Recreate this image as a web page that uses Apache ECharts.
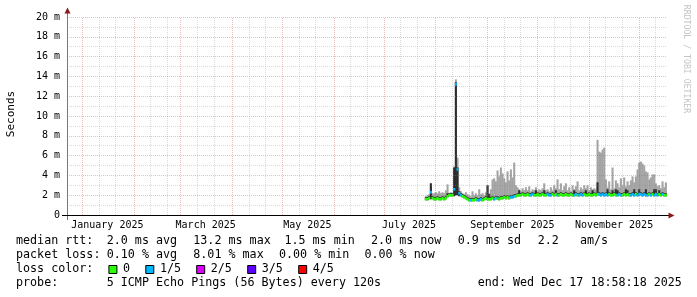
<!DOCTYPE html>
<html><head><meta charset="utf-8">
<script src="https://cdn.jsdelivr.net/npm/echarts@6/dist/echarts.min.js"></script>
<style>html,body{margin:0;padding:0;background:#fff}#c{width:697px;height:297px}</style>
</head><body><div id="c"></div>
<script>
const DAY = 86400000;
const endTime = Date.UTC(2025, 11, 17, 18, 58, 18);
const startTime = endTime - 360 * DAY;
const firstSample = Date.UTC(2025, 6, 26);   // one consolidated sample per day

// median RTT (ms)
const median = [
1.6,1.6,1.7,2.3,1.7,1.6,1.6,1.7,1.6,1.6,
1.7,1.6,1.7,1.9,2.0,2.0,2.0,2.6,13.2,4.6,
2.2,2.0,1.9,1.8,1.7,1.6,1.5,1.5,1.5,1.5,
1.6,1.5,1.5,1.6,1.5,1.6,1.7,1.6,1.6,1.6,
1.7,1.6,1.7,1.7,1.6,1.7,1.7,1.8,1.7,1.8,
1.7,1.8,1.8,1.9,1.9,2.0,2.0,2.0,2.1,2.0,
2.0,2.1,2.0,2.0,2.1,2.0,2.0,2.1,2.0,2.0,
2.1,2.0,2.0,2.1,2.0,2.0,2.1,2.0,2.1,2.0,
2.0,2.1,2.0,2.0,2.1,2.0,2.0,2.1,2.0,2.0,
2.1,2.0,2.0,2.1,2.0,2.1,2.0,2.0,2.1,2.0,
2.0,2.1,2.0,2.1,2.1,2.0,2.1,2.0,2.1,2.0,
2.1,2.0,2.0,2.1,2.0,2.0,2.1,2.0,2.0,2.1,
2.0,2.1,2.0,2.0,2.1,2.0,2.1,2.0,2.1,2.1,
2.0,2.1,2.0,2.0,2.1,2.0,2.1,2.0,2.1,2.0,
2.1,2.0,2.1,2.0,2.0];
// lost pings out of 5
const lossLevel = [
0,0,0,1,0,0,0,0,0,0,
0,0,0,0,0,0,0,1,1,1,
1,1,0,0,0,0,0,1,0,0,
0,1,1,1,0,0,0,0,0,0,
0,1,0,1,0,0,0,0,0,0,
0,1,1,1,0,0,0,0,0,0,
0,0,0,1,1,0,0,0,0,0,
0,0,0,1,1,1,0,0,0,1,
0,0,0,0,0,0,0,0,0,1,
1,0,1,1,1,0,0,0,0,0,
0,0,0,0,1,1,1,1,1,1,
0,0,0,0,0,1,1,1,0,0,
0,0,0,1,1,1,0,1,1,1,
1,1,1,1,0,1,0,1,1,1,
0,0,1,0,0];
// slowest ping (ms)
const pingHi = [
1.9,2.0,2.1,3.2,2.2,2.2,2.3,2.2,2.4,2.2,
2.3,2.2,2.5,3.1,2.2,2.3,2.2,4.9,13.7,5.8,
2.8,2.4,2.2,2.1,2.3,2.1,2.0,1.9,2.4,2.0,
2.2,2.0,2.6,2.1,2.2,2.0,2.3,3.0,2.2,2.6,
3.6,3.7,3.4,4.5,3.9,4.8,4.2,3.7,3.3,4.4,
3.5,4.6,3.8,5.3,3.0,2.8,2.6,2.4,2.7,2.5,
2.8,2.5,2.9,2.4,2.6,2.5,2.8,2.4,2.6,2.5,
2.7,3.2,2.5,2.6,2.4,2.8,2.5,3.0,2.7,3.6,
2.6,3.2,2.5,2.9,3.2,2.5,2.8,2.4,3.0,2.6,
2.9,3.4,2.5,2.8,2.6,3.0,2.7,3.0,2.5,2.8,
2.6,2.7,2.6,7.6,6.4,6.3,6.6,6.8,3.6,2.8,
3.4,2.6,4.8,2.7,3.5,3.2,2.8,3.7,3.0,3.8,
2.9,3.4,3.0,3.5,3.9,3.3,3.9,4.6,5.3,5.4,
5.2,5.0,4.4,4.3,3.6,3.8,4.1,4.1,3.2,2.9,
3.0,2.7,3.4,2.8,3.3];
// 4th of 5 pings, top of the inner smoke (ms)
const pingMid = [
1.8,1.8,1.9,3.2,1.9,1.8,1.8,1.9,1.8,1.8,
1.9,1.8,1.9,2.2,2.2,2.2,2.2,4.8,13.4,4.8,
2.4,2.2,2.1,2.0,1.9,1.8,1.7,1.7,1.7,1.7,
1.8,1.7,1.7,1.8,1.7,1.8,1.9,3.0,2.1,1.8,
1.9,1.8,1.9,1.9,1.8,1.9,1.9,2.0,1.9,2.0,
1.9,2.0,2.0,2.1,2.1,2.2,2.5,2.2,2.3,2.2,
2.2,2.3,2.2,2.2,2.3,2.2,2.5,2.3,2.2,2.2,
2.3,2.5,2.2,2.3,2.2,2.2,2.3,2.2,2.5,2.2,
2.2,2.3,2.2,2.2,2.3,2.2,2.2,2.3,2.2,2.5,
2.3,2.2,2.2,2.3,2.2,2.3,2.5,2.2,2.3,2.2,
2.5,2.3,2.2,3.3,2.3,2.2,2.3,2.2,2.3,2.6,
2.3,2.2,2.5,2.3,2.6,2.5,2.3,2.2,2.2,2.3,
2.6,2.5,2.2,2.2,2.3,2.6,2.3,2.2,2.6,2.3,
2.2,2.3,2.6,2.2,2.3,2.2,2.3,2.6,2.6,2.2,
2.5,2.2,2.3,2.2,2.2];
// fastest ping (ms)
const pingLo = [
1.5,1.5,1.6,1.6,1.6,1.5,1.5,1.6,1.5,1.5,
1.6,1.5,1.6,1.8,1.9,1.9,1.9,1.9,2.0,2.0,
1.9,1.9,1.8,1.7,1.6,1.5,1.4,1.4,1.4,1.4,
1.5,1.4,1.4,1.5,1.4,1.5,1.6,1.5,1.5,1.5,
1.6,1.5,1.6,1.6,1.5,1.6,1.6,1.7,1.6,1.7,
1.6,1.7,1.7,1.8,1.8,1.9,1.9,1.9,2.0,1.9,
1.9,2.0,1.9,1.9,2.0,1.9,1.9,2.0,1.9,1.9,
2.0,1.9,1.9,2.0,1.9,1.9,2.0,1.9,2.0,1.9,
1.9,2.0,1.9,1.9,2.0,1.9,1.9,2.0,1.9,1.9,
2.0,1.9,1.9,2.0,1.9,2.0,1.9,1.9,2.0,1.9,
1.9,2.0,1.9,2.0,2.0,1.9,2.0,1.9,2.0,1.9,
2.0,1.9,1.9,2.0,1.9,1.9,2.0,1.9,1.9,2.0,
1.9,2.0,1.9,1.9,2.0,1.9,2.0,1.9,2.0,2.0,
1.9,2.0,1.9,1.9,2.0,1.9,2.0,1.9,2.0,1.9,
2.0,1.9,2.0,1.9,1.9];

const yMajor = [2,4,6,8,10,12,14,16,18,20];
const yMinor = [1,3,5,7,9,11,13,15,17,19];
const monthStarts = ['2025-01-01','2025-02-01','2025-03-01','2025-04-01','2025-05-01','2025-06-01','2025-07-01','2025-08-01','2025-09-01','2025-10-01','2025-11-01','2025-12-01'];
const minorDays = ['2025-01-11','2025-01-21','2025-02-11','2025-02-21','2025-03-11','2025-03-21','2025-04-11','2025-04-21','2025-05-11','2025-05-21','2025-06-11','2025-06-21','2025-07-11','2025-07-21','2025-08-11','2025-08-21','2025-09-11','2025-09-21','2025-10-11','2025-10-21','2025-11-11','2025-11-21','2025-12-11'];
const monthLabels = ['January 2025','March 2025','May 2025','July 2025','September 2025','November 2025'];
const monthLabelDates = ['2025-01-16','2025-03-16','2025-05-16','2025-07-16','2025-09-16','2025-11-16'];

const lossNames = ['0','1/5','2/5','3/5','4/5'];
const lossColors = ['#26ff00','#00b8ff','#dd00ff','#5e00ff','#ff0000'];
const rttStats = ['2.0 ms avg','13.2 ms max','1.5 ms min','2.0 ms now','0.9 ms sd','2.2','am/s'];
const lossStats = ['0.10 % avg','8.01 % max','0.00 % min','0.00 % now'];
const probeText = '5 ICMP Echo Pings (56 Bytes) every 120s';
const endText = 'end: Wed Dec 17 18:58:18 2025';

const ts = d => Date.parse(d + 'T00:00:00Z');
const times = median.map((_, i) => firstSample + i * DAY);
const labelMap = {};
monthLabelDates.forEach((d, i) => { labelMap[ts(d)] = monthLabels[i]; });

function bandRender(color) {
  return function (params, api) {
    const t = api.value(0);
    const a = api.coord([t - DAY / 2, api.value(2)]);
    const b = api.coord([t + DAY / 2, api.value(1)]);
    return { type: 'rect', shape: { x: a[0], y: a[1], width: b[0] - a[0] + 0.4, height: Math.max(b[1] - a[1], 0) }, style: { fill: color } };
  };
}
function medianRender(params, api) {
  const t = api.value(0);
  const a = api.coord([t - DAY / 2, api.value(1)]);
  const b = api.coord([t + DAY / 2, api.value(1)]);
  return { type: 'rect', shape: { x: a[0], y: a[1] - 1.3, width: b[0] - a[0] + 0.4, height: 2.6 }, style: { fill: lossColors[api.value(2)] } };
}

const MONO = '"DejaVu Sans Mono", monospace';
const majorStyle = { color: 'rgba(215,90,90,0.42)', width: 1, type: [1, 1] };
const minorStyle = { color: 'rgba(140,140,140,0.32)', width: 1, type: [1, 1] };
const gridLines = []
  .concat(minorDays.map(d => ({ xAxis: ts(d), lineStyle: minorStyle })))
  .concat(monthStarts.map(d => ({ xAxis: ts(d), lineStyle: majorStyle })))
  .concat(yMinor.map(v => ({ yAxis: v, lineStyle: minorStyle })))
  .concat(yMajor.map(v => ({ yAxis: v, lineStyle: majorStyle })));

// legend layout
const legendFont = '11.7px ' + MONO;
const txt = (x, y, s, extra) => Object.assign({ type: 'text', x: x, y: y, silent: true, style: { text: s, font: legendFont, fill: '#000', textVerticalAlign: 'middle' } }, extra || {});
const graphics = [];
const rttX = [106.7, 193.3, 284.4, 371, 457.8, 537.8, 580];
const lossX = [106.7, 193.3, 279, 364.4];
graphics.push(txt(16, 241, 'median rtt:'));
rttStats.forEach((s, i) => graphics.push(txt(rttX[i], 241, s)));
graphics.push(txt(16, 255, 'packet loss:'));
lossStats.forEach((s, i) => graphics.push(txt(lossX[i], 255, s)));
graphics.push(txt(16, 269, 'loss color:'));
const boxX = [108.4, 145.3, 196.2, 247.2, 298.2];
lossNames.forEach((s, i) => {
  graphics.push({ type: 'rect', silent: true, shape: { x: boxX[i] + 0.5, y: 265.5, width: 8, height: 8 }, style: { fill: lossColors[i], stroke: '#000', lineWidth: 1 } });
  graphics.push(txt(boxX[i] + 14.6, 269, s));
});
graphics.push(txt(16, 283, 'probe:'));
graphics.push(txt(106.7, 283, probeText));
graphics.push(txt(477.8, 283, endText));
// axis label and watermark
graphics.push({ type: 'text', x: 11, y: 114, rotation: Math.PI / 2, silent: true, style: { text: 'Seconds', font: '11px ' + MONO, fill: '#000', textAlign: 'center', textVerticalAlign: 'middle' } });
graphics.push({ type: 'text', x: 686, y: 59, rotation: -Math.PI / 2, silent: true, style: { text: 'RRDTOOL / TOBI OETIKER', font: '8.2px ' + MONO, fill: '#c4c4c4', textAlign: 'center', textVerticalAlign: 'middle' } });
// axis extensions and arrows
graphics.push({ type: 'line', silent: true, shape: { x1: 67.5, y1: 10, x2: 67.5, y2: 220 }, style: { stroke: '#777', lineWidth: 1 } });
graphics.push({ type: 'line', silent: true, shape: { x1: 62, y1: 215.5, x2: 670, y2: 215.5 }, style: { stroke: '#000', lineWidth: 1 } });
graphics.push({ type: 'polygon', silent: true, shape: { points: [[64.5, 13.5], [70.5, 13.5], [67.5, 7.5]] }, style: { fill: '#8b1a1a' } });
graphics.push({ type: 'polygon', silent: true, shape: { points: [[668.5, 212.5], [668.5, 218.5], [674.5, 215.5]] }, style: { fill: '#8b1a1a' } });

const chart = echarts.init(document.getElementById('c'), null, { renderer: 'canvas' });
chart.setOption({
  animation: false,
  backgroundColor: '#fff',
  grid: { left: 67, right: 30, top: 17, bottom: 82 },
  xAxis: {
    type: 'value', min: startTime, max: endTime,
    axisLine: { show: false }, axisTick: { show: false }, splitLine: { show: false },
    axisLabel: {
      customValues: monthLabelDates.map(ts),
      formatter: v => labelMap[v] || '',
      fontFamily: MONO, fontSize: 10, color: '#000', margin: 5
    }
  },
  yAxis: {
    type: 'value', min: 0, max: 20, interval: 2,
    axisLine: { show: false }, axisTick: { show: false }, splitLine: { show: false },
    axisLabel: { formatter: v => v === 0 ? '0' : v + ' m', fontFamily: MONO, fontSize: 10, color: '#000', margin: 7, padding: [4, 0, 0, 0] }
  },
  series: [
    { type: 'custom', z: 2, clip: true, renderItem: bandRender('#a4a4a4'), encode: { x: 0, y: [1, 2] },
      data: times.map((t, i) => [t, pingLo[i], pingHi[i]]) },
    { type: 'custom', z: 3, clip: true, renderItem: bandRender('#2c2c2c'), encode: { x: 0, y: [1, 2] },
      data: times.map((t, i) => [t, pingLo[i], pingMid[i]]) },
    { type: 'custom', z: 4, clip: true, renderItem: medianRender, encode: { x: 0, y: 1 },
      data: times.map((t, i) => [t, median[i], lossLevel[i]]) },
    { type: 'line', z: 6, data: [], silent: true,
      markLine: { silent: true, symbol: ['none', 'none'], label: { show: false }, animation: false, data: gridLines } }
  ],
  graphic: graphics
});
</script></body></html>
